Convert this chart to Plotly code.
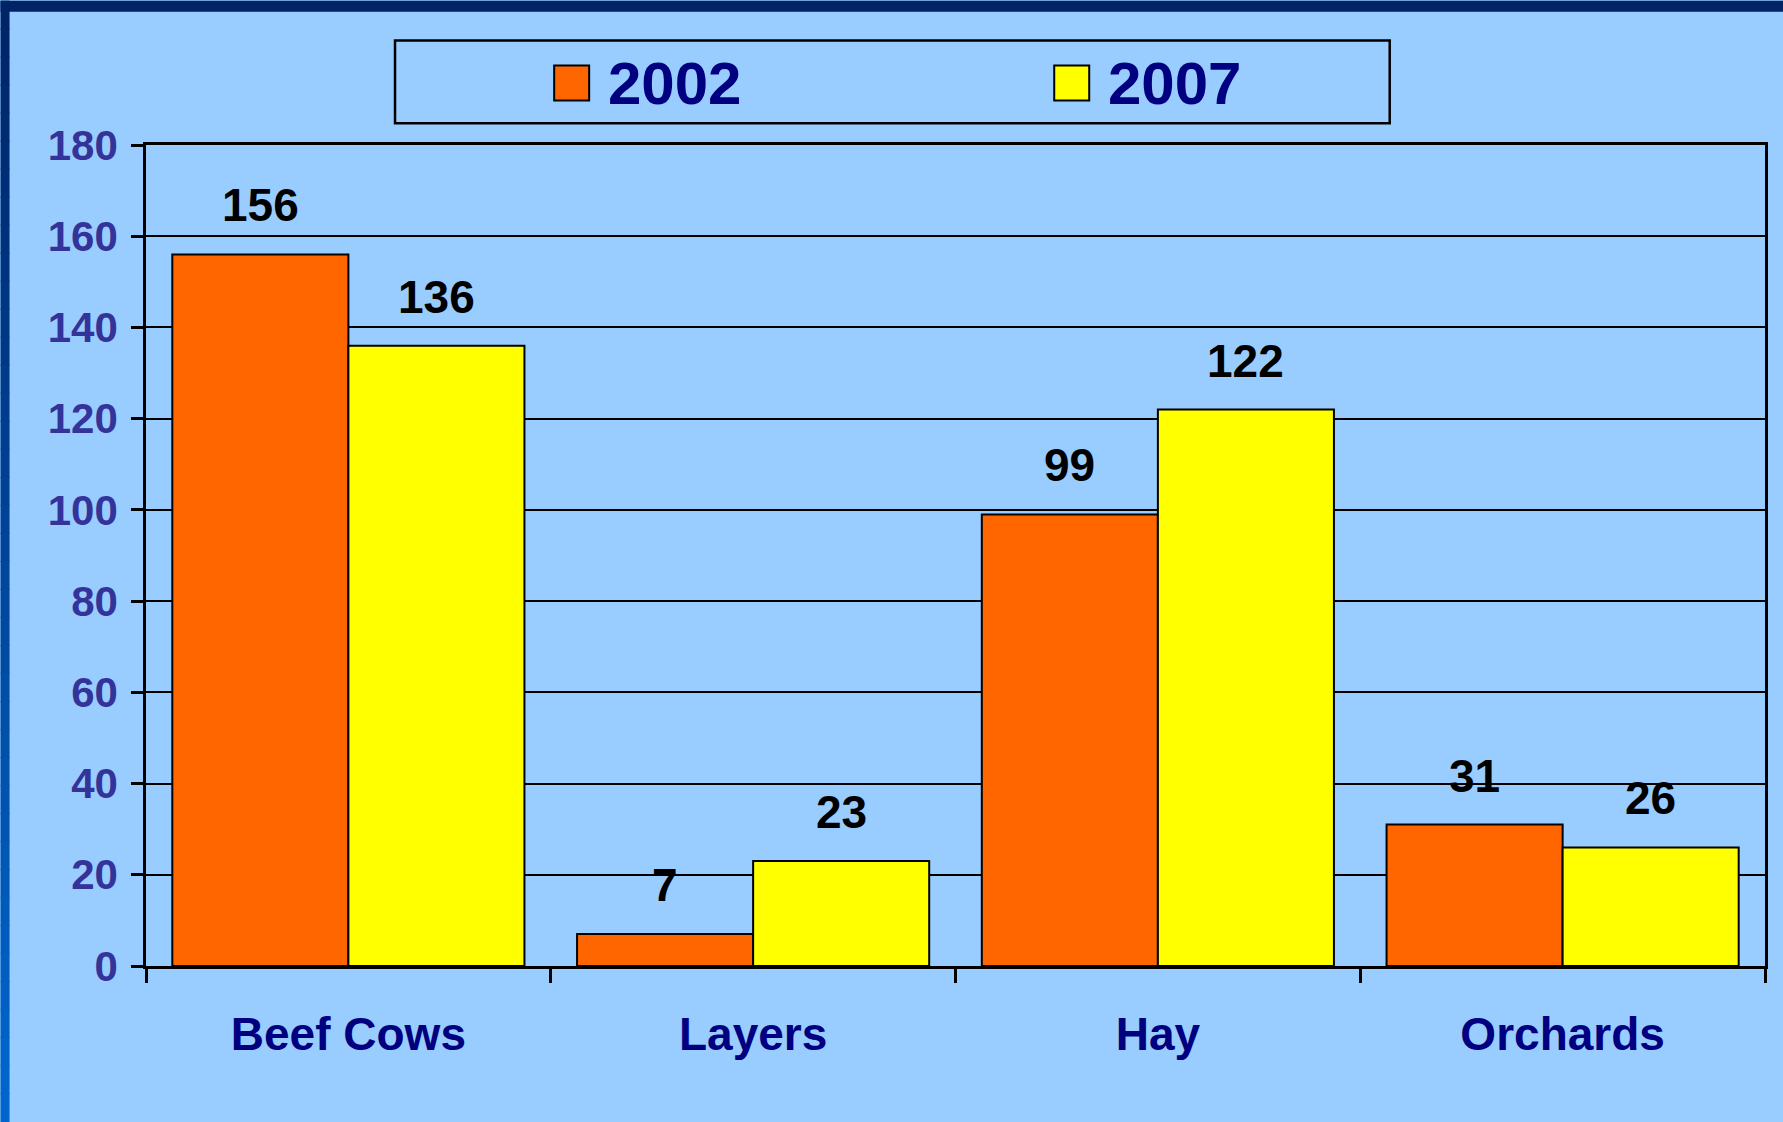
import plotly.graph_objects as go

# ---- data ----
categories = ["Beef Cows", "Layers", "Hay", "Orchards"]
series_names = ["2002", "2007"]
values_2002 = [156, 7, 99, 31]
values_2007 = [136, 23, 122, 26]
y_ticks = [0, 20, 40, 60, 80, 100, 120, 140, 160, 180]

# ---- styling ----
W, H = 1783, 1122
BG = "#99CCFF"
COLORS = ["#FF6600", "#FFFF00"]
FONT = "Arial, Liberation Sans, sans-serif"
ML, MR, MT, MB = 145.5, 18, 144.5, 155.5
PW = W - ML - MR
PH = H - MT - MB
BARGAP = 0.13


def px2paper(x, y):
    return (x - ML) / PW, (H - MB - y) / PH


fig = go.Figure()
series = [values_2002, values_2007]
for name, vals, col in zip(series_names, series, COLORS):
    fig.add_trace(go.Bar(
        x=categories, y=vals, name=name,
        marker=dict(color=col, line=dict(color="black", width=2)),
        showlegend=False,
    ))

# data labels above bars
cat_w = PW / len(categories)
bar_w = cat_w * (1 - BARGAP) / len(series)
for i, vals in enumerate(series):
    xshift = (i - (len(series) - 1) / 2) * bar_w
    for c, v in zip(categories, vals):
        fig.add_annotation(
            x=c, y=v, xref="x", yref="y", text=str(v), showarrow=False,
            xshift=xshift, yshift=49, yanchor="middle",
            font=dict(family=FONT, size=46, color="black", weight="bold"),
        )

shapes = []
# left border gradient band
top_rgb = (0x00, 0x24, 0x66)
bot_rgb = (0x00, 0x66, 0xCC)
N = 40
for k in range(N):
    t = k / (N - 1)
    rgb = tuple(round(a + (b - a) * t) for a, b in zip(top_rgb, bot_rgb))
    y0 = H * k / N
    y1 = H * (k + 1) / N + 1
    x0p, y0p = px2paper(0, y0)
    x1p, y1p = px2paper(9, y1)
    shapes.append(dict(type="rect", xref="paper", yref="paper",
                       x0=x0p, x1=x1p, y0=y1p, y1=y0p,
                       fillcolor="rgb(%d,%d,%d)" % rgb, line=dict(width=0), layer="below"))
# top border band
x0p, y0p = px2paper(0, 0)
x1p, y1p = px2paper(W, 11)
shapes.append(dict(type="rect", xref="paper", yref="paper",
                   x0=x0p, x1=x1p, y0=y1p, y1=y0p,
                   fillcolor="#002466", line=dict(width=0), layer="below"))

# custom legend
bx0, by0 = px2paper(394.6, 39.8)
bx1, by1 = px2paper(1389.6, 122.8)
shapes.append(dict(type="rect", xref="paper", yref="paper",
                   x0=bx0, x1=bx1, y0=by1, y1=by0,
                   fillcolor=BG, line=dict(color="black", width=2.5)))
leg_sym_x = [553.8, 1054]
for name, col, sx in zip(series_names, COLORS, leg_sym_x):
    sx0, sy0 = px2paper(sx, 65)
    sx1, sy1 = px2paper(sx + 35, 100)
    shapes.append(dict(type="rect", xref="paper", yref="paper",
                       x0=sx0, x1=sx1, y0=sy1, y1=sy0,
                       fillcolor=col, line=dict(color="black", width=2)))
    tx, ty = px2paper(sx + 52, 82.5)
    fig.add_annotation(x=tx, y=ty, xref="paper", yref="paper", text=name,
                       showarrow=False, xanchor="left", yanchor="middle",
                       font=dict(family=FONT, size=60, color="#000080", weight="bold"))

fig.update_layout(
    width=W, height=H,
    margin=dict(l=ML, r=MR, t=MT, b=MB, autoexpand=False),
    paper_bgcolor=BG, plot_bgcolor=BG,
    barmode="group", bargap=BARGAP, bargroupgap=0,
    shapes=shapes,
    showlegend=False,
)
fig.update_xaxes(
    showline=True, mirror=True, linecolor="black", linewidth=2.5,
    ticks="outside", tickson="boundaries", ticklen=14, tickwidth=2.5, tickcolor="black",
    tickfont=dict(family=FONT, size=46, color="#000080", weight="bold"),
    ticklabelstandoff=26,
    showgrid=False,
)
fig.update_yaxes(
    range=[0, 180], tickvals=y_ticks,
    showline=True, mirror=True, linecolor="black", linewidth=2.5,
    ticks="outside", ticklen=12, tickwidth=2.5, tickcolor="black",
    tickfont=dict(family=FONT, size=42, color="#333399", weight="bold"),
    ticklabelstandoff=5,
    showgrid=True, gridcolor="black", gridwidth=2,
    zeroline=False,
)

fig.write_html(
    "out.html",
    config={"displayModeBar": False},
    post_script="document.body.style.margin='0';document.body.style.background='#99CCFF';",
)
